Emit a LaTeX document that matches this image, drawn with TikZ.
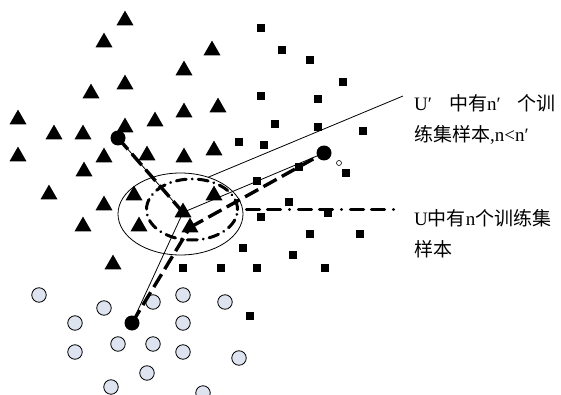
\documentclass[tikz,border=0pt]{standalone}
\usepackage{fontspec}
\setmainfont{Liberation Serif}
\newfontfamily\cjk{Noto Sans CJK SC}
\usetikzlibrary{shapes.geometric}
\definecolor{cfill}{HTML}{DDE3EF}
\begin{document}
\begin{tikzpicture}[x=1pt,y=-1pt,
  tri/.style={regular polygon,regular polygon sides=3,fill=black,inner sep=0pt,outer sep=0pt,minimum size=19.6pt,yshift=-2.4pt},
  sq/.style={rectangle,fill=black,inner sep=0pt,outer sep=0pt,minimum size=8pt},
  smp/.style={circle,draw=black,line width=0.8pt,fill=cfill,inner sep=0pt,minimum size=14.5pt},
  bdot/.style={circle,fill=black,inner sep=0pt,outer sep=0pt,minimum size=15pt},
  thinln/.style={line width=0.8pt},
  thickdash/.style={line width=3.4pt,dash pattern=on 15pt off 6pt},
  dashdotell/.style={draw,ellipse,line width=3pt,line cap=round,dash pattern=on 10pt off 6pt on 0.01pt off 6pt,inner sep=0pt,outer sep=0pt},
  thinell/.style={draw,ellipse,line width=0.8pt,inner sep=0pt,outer sep=0pt},
  hdashdot/.style={line width=3.4pt,line cap=round,dash pattern=on 0.01pt off 9pt on 13pt off 8pt on 13pt off 9pt},
  lbl/.style={anchor=base west,inner sep=0pt,font=\fontsize{19}{19}\selectfont}
]
\useasboundingbox (0,0) rectangle (561,395);
% triangles
\foreach \p [count=\i] in {{125,18},{104,40},{212,48},{184,68},{125,82},{91,91},{18,117},{54,132},{83,132},{125,125},{155,119},{184,110},{218,105},{18,154},{104,155},{147,153},{184,155},{214,148},{84,169},{49,192},{134,193},{214,193},{104,203},{83,224},{139,224},{113,262}}
  \node[tri] (t\i) at (\p) {};
% squares
\foreach \p [count=\i] in {{261,28},{282,50},{310,60},{343,82},{261,96},{318,99},{275,124},{318,127},{363,131},{239,142},{264,145},{299,167},{346,173},{257,181},{289,202},{261,217},{328,213},{310,234},{360,234},{243,248},{293,255},{183,268},{221,268},{257,268},{325,268},{250,316}}
  \node[sq] (s\i) at (\p) {};
% light circles
\foreach \p [count=\i] in {{39,295},{104,308},{153,302},{183,295},{225,302},{75,323},{183,323},{118,344},{153,344},{75,352},{183,352},{239,358},{147,373},{111,387},{203,393}}
  \node[smp] (c\i) at (\p) {};
\node[circle,draw,line width=0.6pt,inner sep=0pt,minimum size=5pt] (hc) at (339,163) {};
% ellipses
\node[thinell,minimum width=125pt,minimum height=82pt] (E1) at (180.5,214) {};
\node[dashdotell,minimum width=91pt,minimum height=61pt] (E2) at (192,209.5) {};
% centre triangles and black points
\node[tri] (ct) at (183,210) {};
\node[tri] (ct2) at (190,225) {};
\node[bdot] (tl) at (118,138) {};
\node[bdot] (rc) at (324,153) {};
\node[bdot] (bl) at (132,323) {};
% connectors
\draw[thinln] (tl.center) -- (ct.center);
\draw[thickdash] (tl.center) -- (ct.center);
\draw[thinln] (bl.center) -- (ct.center);
\draw[thickdash] (bl.center) -- (ct2.center);
\draw[thinln] (ct.center) -- (rc.center);
\draw[thickdash] (ct2.center) -- (rc.center);
\coordinate (ptop) at (403,96);
\coordinate (pmid) at (400,209.5);
\draw[thinln] (E1.53) -- (ptop);
\draw[hdashdot] (E2.east) -- (pmid);
% labels
\node[lbl] (L1) at (414,111) {U′\hspace{0.9em}{\cjk 中有}n′\hspace{0.9em}{\cjk 个训}};
\node[lbl] (L2) at (414,142) {{\cjk 练集样本},n<n′};
\node[lbl] (L3) at (414,225) {U{\cjk 中有}n{\cjk 个训练集}};
\node[lbl] (L4) at (414,256) {{\cjk 样本}};
\end{tikzpicture}
\end{document}
